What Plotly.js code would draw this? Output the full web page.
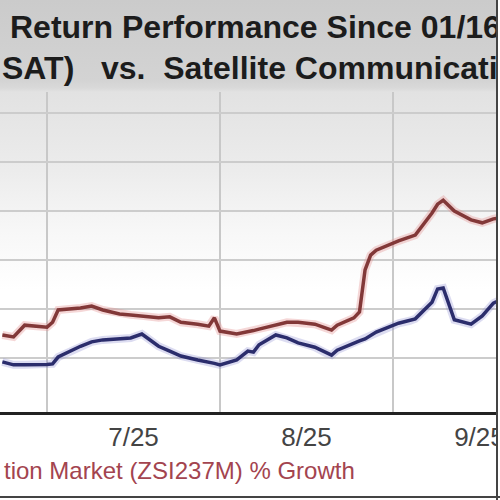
<!DOCTYPE html>
<html><head><meta charset="utf-8">
<script src="https://cdn.plot.ly/plotly-3.0.1.min.js"></script>
<style>
html,body{margin:0;padding:0;background:#fff;}
#wrap{position:relative;width:500px;height:500px;overflow:hidden;
background:linear-gradient(to bottom,#cbcbcb 0px,#d3d3d3 80px,#d9d9d9 88px,#e2e2e2 92px,#ececec 170px,#f7f7f7 230px,#ffffff 290px,#ffffff 100%);}
#chart{position:absolute;left:0;top:0;width:500px;height:500px;}
.frameR{position:absolute;left:496px;top:0;width:2px;height:500px;background:#444;}
.edgeR{position:absolute;left:498px;top:0;width:2px;height:500px;background:#fff;}
.frameB{position:absolute;left:0;top:496px;width:500px;height:2px;background:#444;}
</style></head>
<body><div id="wrap"><div id="chart"></div><div class="frameR"></div><div class="edgeR"></div><div class="frameB"></div></div>
<script>
const dates = ['2025-06-23','2025-06-25','2025-06-27','2025-06-30','2025-07-01','2025-07-02','2025-07-03','2025-07-07','2025-07-09','2025-07-11','2025-07-14','2025-07-16','2025-07-18','2025-07-21','2025-07-23','2025-07-25','2025-07-28','2025-07-30','2025-07-31','2025-08-01','2025-08-04','2025-08-06','2025-08-07','2025-08-08','2025-08-11','2025-08-13','2025-08-15','2025-08-18','2025-08-20','2025-08-21','2025-08-22','2025-08-25','2025-08-26','2025-08-27','2025-08-28','2025-08-29','2025-09-02','2025-09-04','2025-09-05','2025-09-08','2025-09-09','2025-09-10','2025-09-11','2025-09-12','2025-09-15','2025-09-17','2025-09-19','2025-09-22'];
const industry = [14.7,14.3,16.7,16.5,16.3,17.3,19.8,20.2,20.6,19.8,19.0,18.8,18.6,18.2,18.4,17.3,16.9,16.5,18.2,15.5,14.9,15.3,15.6,15.9,16.7,17.3,17.3,16.9,16.1,15.7,16.7,18.2,19.4,28.0,31.0,32.0,33.9,34.7,35.1,39.6,41.4,42.2,41.0,40.0,38.2,37.6,38.4,39.0];
const company = [9.2,8.6,8.6,8.6,8.7,8.8,10.2,12.4,13.3,13.7,13.9,14.1,14.9,12.4,11.4,10.4,9.6,9.2,8.9,8.6,9.6,11.4,11.2,12.7,14.7,14.1,13.1,12.2,11.0,10.6,11.6,13.1,13.5,13.9,14.5,15.3,17.1,17.6,18.0,21.4,24.1,24.3,20.8,17.8,16.9,18.6,21.2,22.9];
const yGrid = [10,20,30,40,50,60];
const titleLine1 = 'Return Performance Since 01/16';
const titleLine2 = 'SAT)\u00a0\u00a0\u00a0vs.\u00a0\u00a0Satellite Communication';
const legendText = 'tion Market (ZSI237M) % Growth';

const W = 500, H = 500, mT = 92, mB = 88, mL = 0, mR = 4;
const plotH = H - mT - mB, plotW = W - mL - mR;
const py = p => (H - mB - p) / plotH;   // page px -> paper y
const px = p => (p - mL) / plotW;       // page px -> paper x

const traces = [
  {x: dates, y: industry, mode: 'lines', line: {color: 'rgba(225,140,140,0.35)', width: 8}, hoverinfo: 'skip'},
  {x: dates, y: company, mode: 'lines', line: {color: 'rgba(140,140,210,0.3)', width: 8}, hoverinfo: 'skip'},
  {x: dates, y: company, mode: 'lines', line: {color: '#2b2d6c', width: 3.5}},
  {x: dates, y: industry, mode: 'lines', line: {color: '#823838', width: 3.5}}
];

const layout = {
  width: W, height: H,
  margin: {l: mL, r: mR, t: mT, b: mB, pad: 0},
  paper_bgcolor: 'rgba(0,0,0,0)', plot_bgcolor: 'rgba(0,0,0,0)',
  showlegend: false, hovermode: false,
  xaxis: {
    type: 'date',
    range: ['2025-06-22 13:51', '2025-09-19 11:11'],
    tick0: '2025-07-01', dtick: 'M1',
    ticklabelmode: 'period', tickformat: '%-m/%y',
    ticklabeloverflow: 'allow',
    showgrid: true, gridcolor: '#c8c8c8', gridwidth: 2,
    showline: true, linecolor: '#222', linewidth: 3,
    ticks: '', zeroline: false,
    tickfont: {family: 'Liberation Sans, Arial, sans-serif', size: 26, color: '#444'}
  },
  yaxis: {
    range: [-1.02, 64.3],
    tickvals: yGrid, showticklabels: false,
    showgrid: true, gridcolor: '#cccccc', gridwidth: 2,
    zeroline: false, showline: false, ticks: ''
  },
  annotations: [
    {text: '<b>' + titleLine1 + '</b>', xref: 'paper', yref: 'paper', x: px(8), y: py(27),
     xanchor: 'left', yanchor: 'middle', showarrow: false,
     font: {family: 'Liberation Sans, Arial, sans-serif', size: 32, color: '#1c1c1c'}},
    {text: '<b>' + titleLine2 + '</b>', xref: 'paper', yref: 'paper', x: px(0), y: py(68),
     xanchor: 'left', yanchor: 'middle', showarrow: false,
     font: {family: 'Liberation Sans, Arial, sans-serif', size: 32, color: '#1c1c1c'}},
    {text: legendText, xref: 'paper', yref: 'paper', x: px(2), y: py(470),
     xanchor: 'left', yanchor: 'middle', showarrow: false,
     font: {family: 'Liberation Sans, Arial, sans-serif', size: 24, color: '#a3444f'}}
  ]
};

Plotly.newPlot('chart', traces, layout, {displayModeBar: false, staticPlot: true});
</script>
</body></html>
